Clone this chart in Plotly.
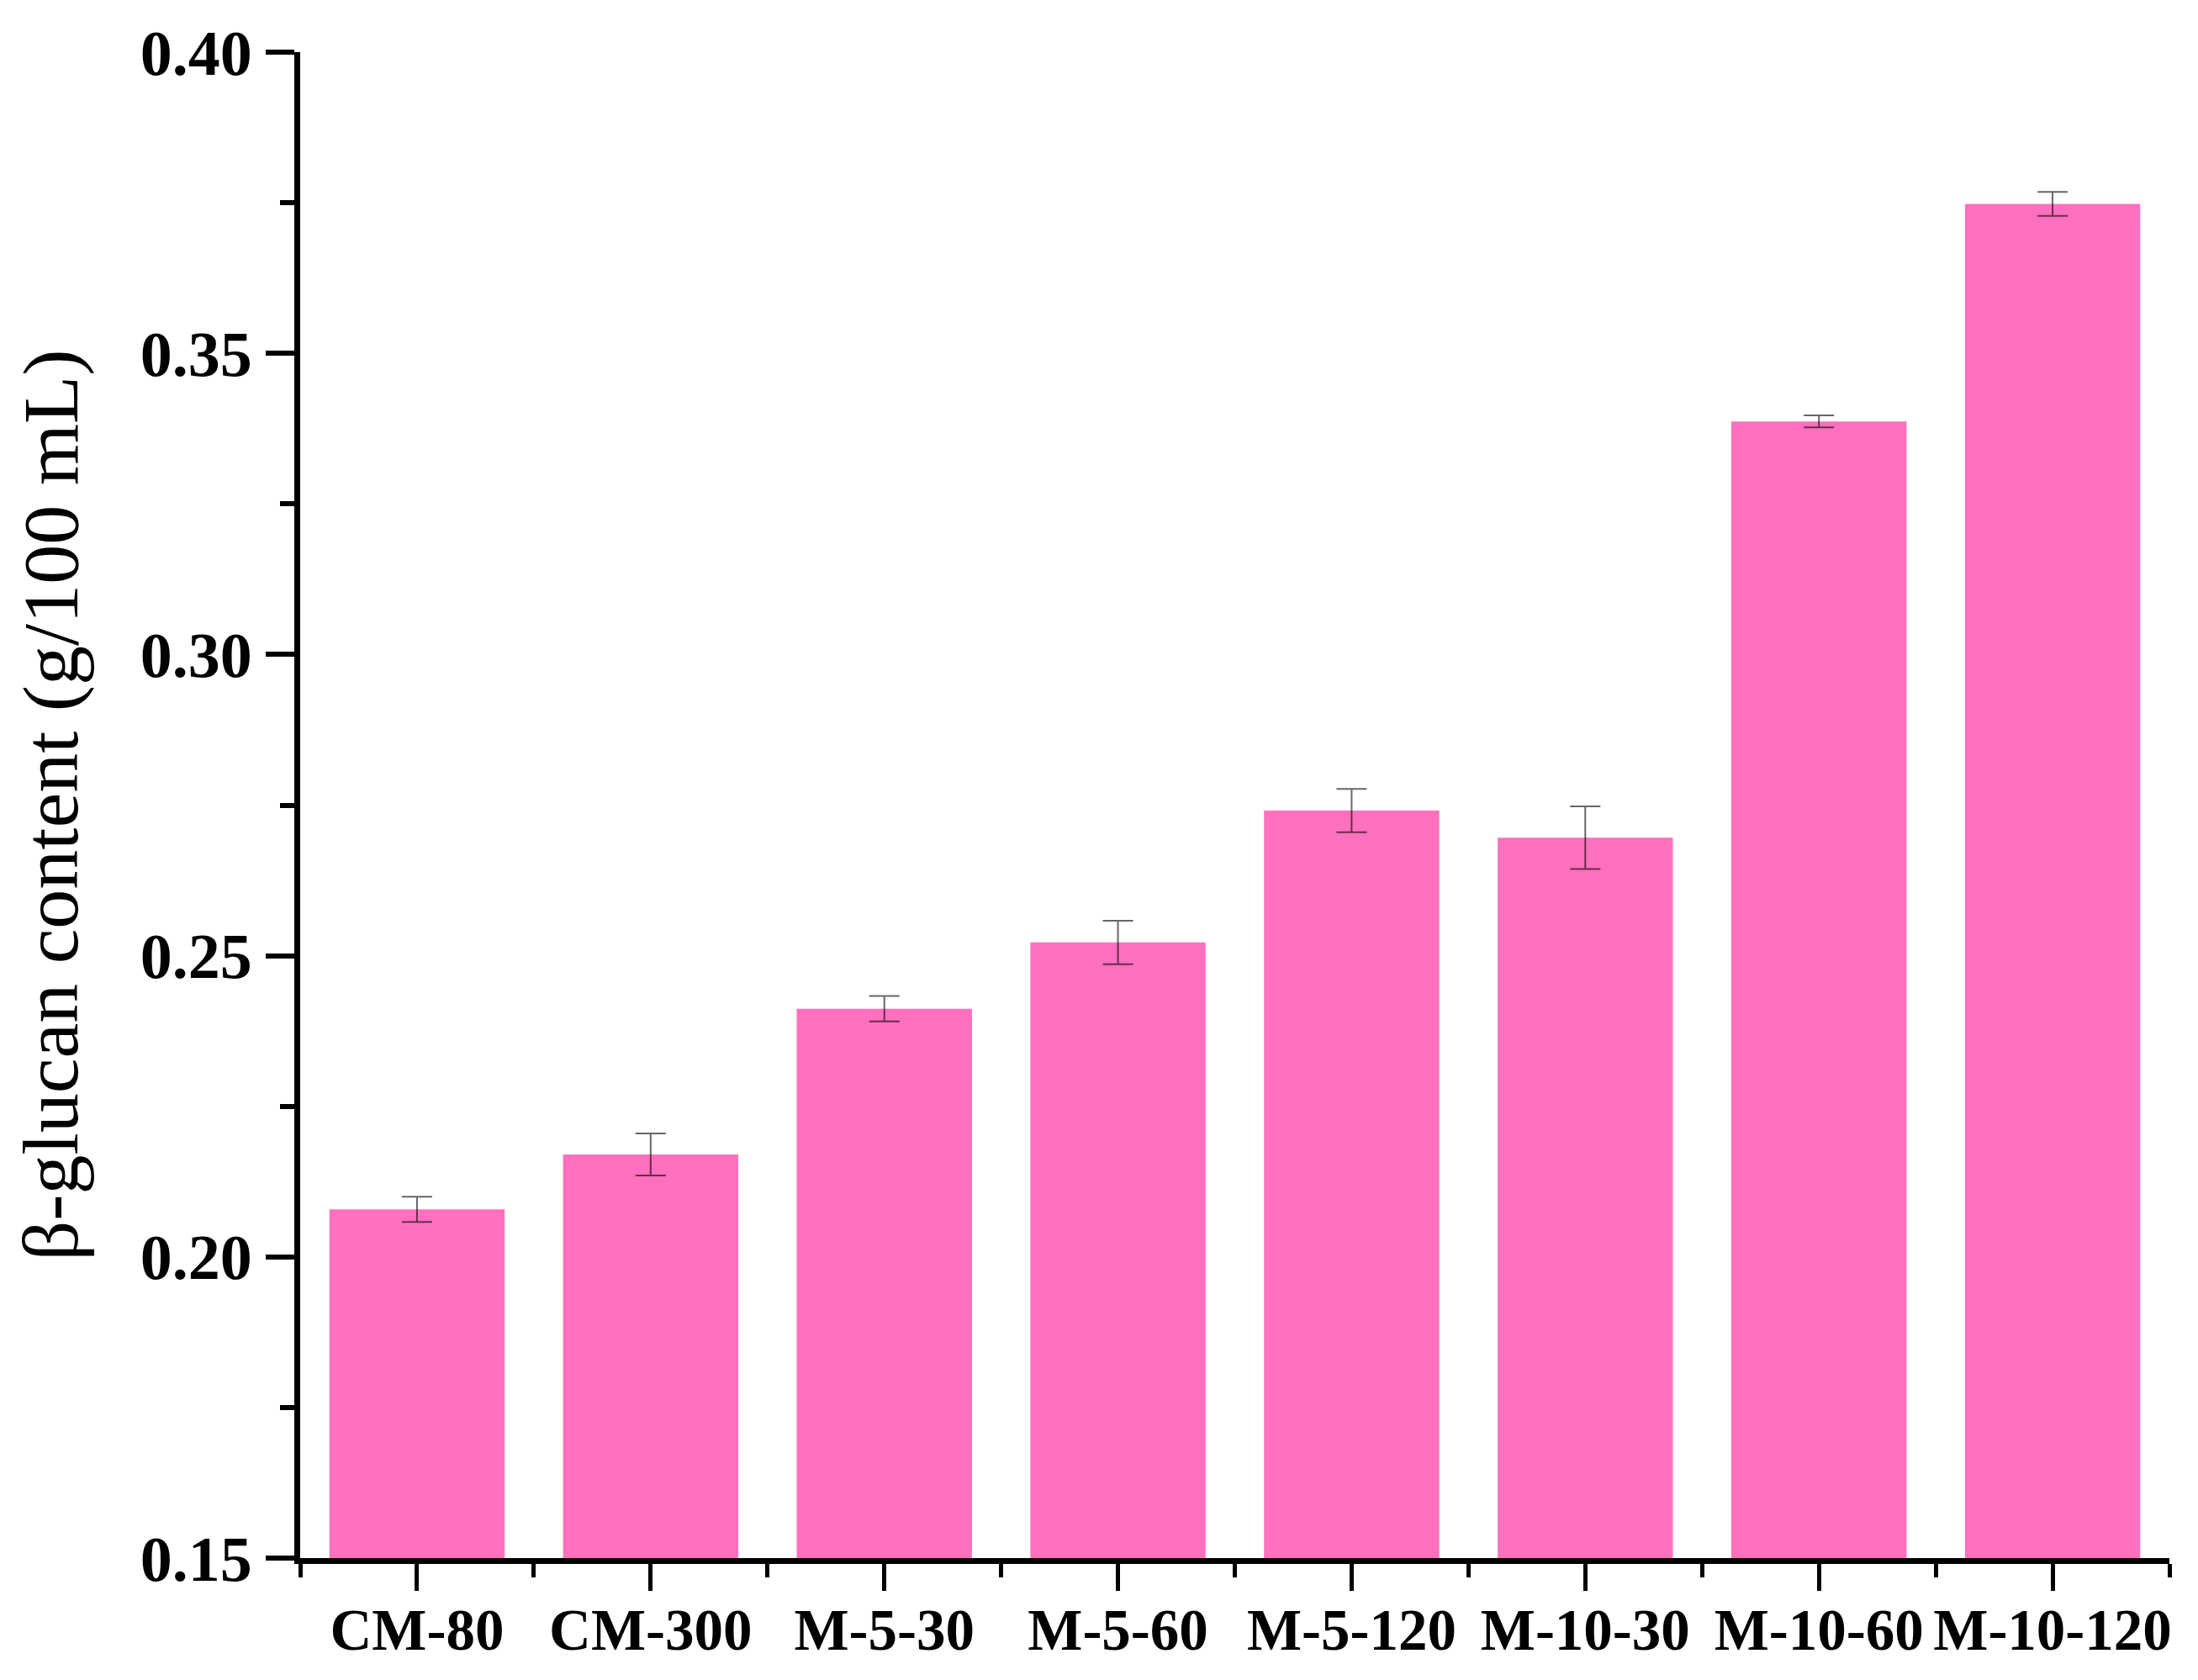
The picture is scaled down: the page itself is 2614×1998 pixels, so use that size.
import plotly.graph_objects as go

categories = ["CM-80", "CM-300", "M-5-30", "M-5-60", "M-5-120", "M-10-30", "M-10-60", "M-10-120"]
values = [0.2079, 0.2170, 0.2412, 0.2522, 0.2741, 0.2696, 0.3387, 0.3748]
errors = [0.0021, 0.0035, 0.0021, 0.0036, 0.0036, 0.0052, 0.0010, 0.0020]
y_ticks = [0.15, 0.20, 0.25, 0.30, 0.35, 0.40]
y_ticktext = ["0.15", "0.20", "0.25", "0.30", "0.35", "0.40"]

positions = list(range(len(categories)))
minor_positions = [p - 0.5 for p in positions] + [positions[-1] + 0.5]

FONT = "Times New Roman, Liberation Serif, serif"

fig = go.Figure()
fig.add_trace(go.Bar(
    x=positions,
    y=values,
    width=0.75,
    marker=dict(color="rgb(255,112,190)", line=dict(width=0)),
    error_y=dict(type="data", array=errors, visible=True,
                 color="rgba(0,0,0,0.6)", thickness=2, width=18),
    showlegend=False,
))

# page body has an 8px margin, so the figure is sized to fill the rest
fig.update_layout(
    width=2606, height=1990,
    margin=dict(l=349, r=34, t=54, b=145, pad=0),
    paper_bgcolor="white", plot_bgcolor="white",
    font=dict(family=FONT, color="black"),
    bargap=0.25,
)

fig.update_xaxes(
    range=[-0.5, len(categories) - 0.5],
    tickmode="array", tickvals=positions, ticktext=categories,
    ticks="outside", ticklen=32, tickwidth=5, tickcolor="black",
    showline=True, linewidth=7, linecolor="black",
    showgrid=False, zeroline=False, automargin=False,
    tickfont=dict(family=FONT, size=69, color="black", weight="bold"),
    ticklabelstandoff=-13,
    minor=dict(tickmode="array", tickvals=minor_positions, ticks="outside",
               ticklen=16, tickwidth=5, tickcolor="black", showgrid=False),
)

fig.update_yaxes(
    range=[0.15, 0.40],
    tickmode="array", tickvals=y_ticks, ticktext=y_ticktext,
    ticks="outside", ticklen=34, tickwidth=6, tickcolor="black",
    showline=True, linewidth=7, linecolor="black",
    showgrid=False, zeroline=False, automargin=False,
    tickfont=dict(family=FONT, size=76, color="black", weight="bold"),
    ticklabelstandoff=1,
    minor=dict(dtick=0.025, tick0=0.15, ticks="outside",
               ticklen=17, tickwidth=6, tickcolor="black", showgrid=False),
    title=dict(text="β-glucan content (g/100 mL)",
               font=dict(family=FONT, size=94, color="black"),
               standoff=45),
)

fig.write_html("out.html")
